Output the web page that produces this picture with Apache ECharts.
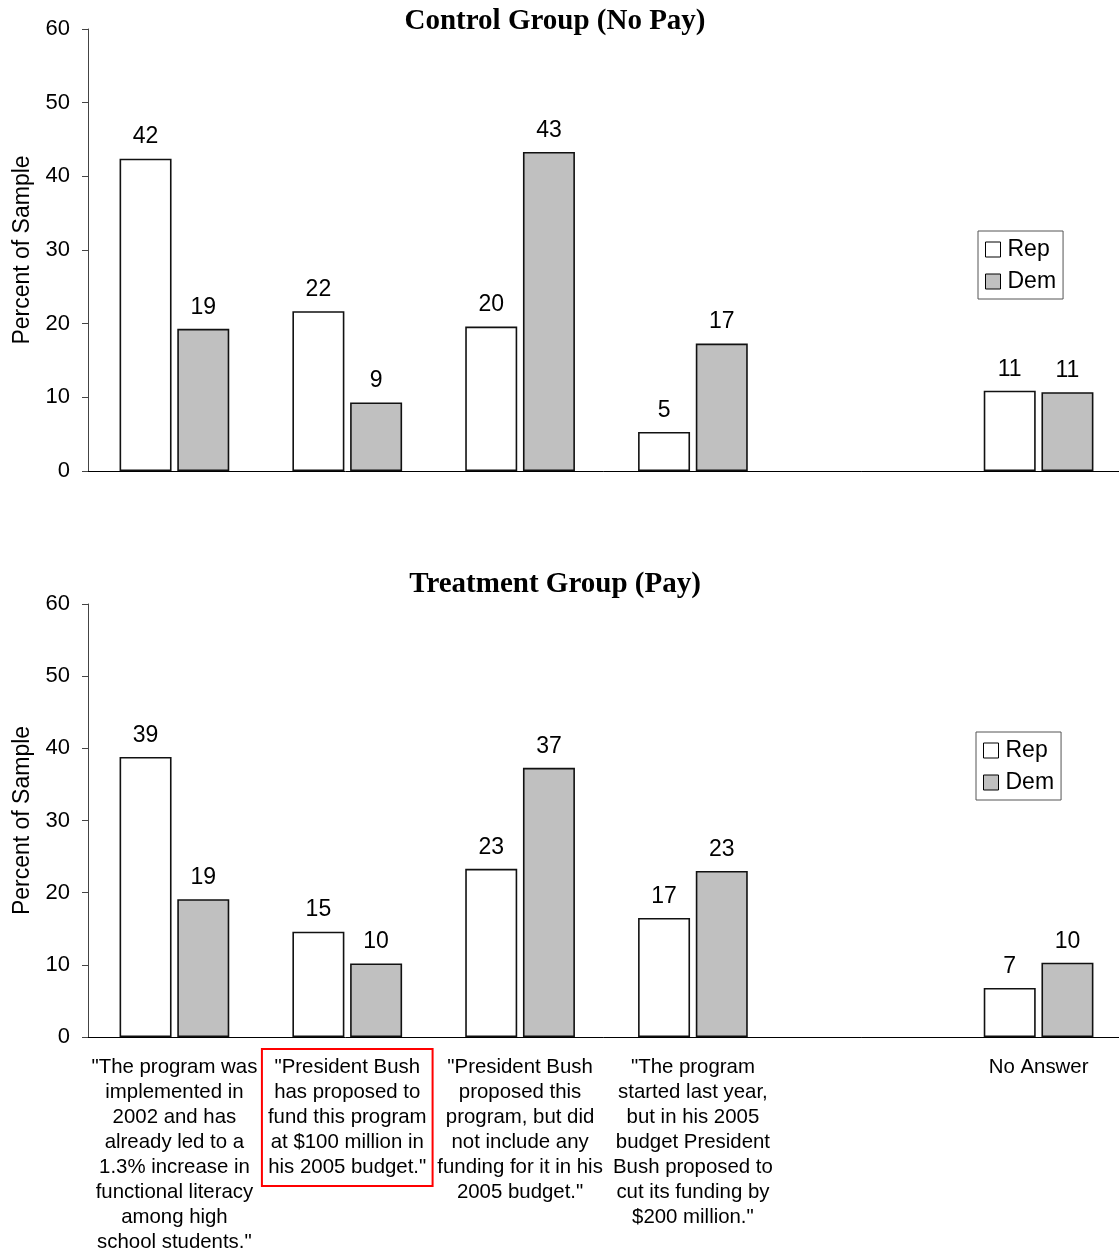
<!DOCTYPE html>
<html><head><meta charset="utf-8">
<script src="https://cdn.jsdelivr.net/npm/echarts@6/dist/echarts.min.js"></script>
<style>html,body{margin:0;padding:0;background:#fff}#c{width:1119px;height:1249px}</style>
</head><body><div id="c"></div>
<script>
const categories = [
  '"The program was\nimplemented in\n2002 and has\nalready led to a\n1.3% increase in\nfunctional literacy\namong high\nschool students."',
  '"President Bush\nhas proposed to\nfund this program\nat $100 million in\nhis 2005 budget."',
  '"President Bush\nproposed this\nprogram, but did\nnot include any\nfunding for it in his\n2005 budget."',
  '"The program\nstarted last year,\nbut in his 2005\nbudget President\nBush proposed to\ncut its funding by\n$200 million."',
  '',
  'No Answer'
];
const titles = ['Control Group (No Pay)', 'Treatment Group (Pay)'];
const controlRep = [42.4, 21.7, 19.6, 5.3, null, 10.9];
const controlDem = [19.3, 9.3, 43.3, 17.3, null, 10.7];
const treatRep = [38.8, 14.6, 23.3, 16.5, null, 6.8];
const treatDem = [19.1, 10.2, 37.3, 23.0, null, 10.3];
const yTicks = { min: 0, max: 60, interval: 10 };
const highlightIndex = 1;

const font = 'Liberation Sans, Arial, sans-serif';
const chart = echarts.init(document.getElementById('c'));

const xData = categories.map((c, i) => i === highlightIndex
  ? { value: c, textStyle: { borderColor: '#ff0000', borderWidth: 2, padding: [6, 6, 6, 6] } }
  : { value: c });

function yAxis(gi) {
  return {
    gridIndex: gi, type: 'value', min: yTicks.min, max: yTicks.max, interval: yTicks.interval,
    name: 'Percent of Sample', nameLocation: 'middle', nameGap: 54,
    nameTextStyle: { fontFamily: font, fontSize: 23, color: '#000' },
    axisLine: { show: true, lineStyle: { color: '#444', width: 1 } },
    axisTick: { show: true, length: 6, lineStyle: { color: '#444' } },
    axisLabel: { fontFamily: font, fontSize: 22, color: '#000', margin: 18 },
    splitLine: { show: false }
  };
}
function xAxis(gi, showLabels) {
  return {
    gridIndex: gi, type: 'category', data: xData,
    axisLine: { lineStyle: { color: '#000', width: 1 } },
    axisTick: { show: false },
    axisLabel: {
      show: showLabels, interval: 0, fontFamily: font, fontSize: 20.4, lineHeight: 25,
      color: '#000', margin: 12, padding: [6, 6, 6, 6]
    }
  };
}
function barSeries(name, data, gi, color) {
  return {
    name, type: 'bar', xAxisIndex: gi, yAxisIndex: gi, data,
    barWidth: 52, barGap: '11%',
    itemStyle: { color, borderColor: '#111', borderWidth: 1.6 },
    label: { show: true, position: 'top', distance: 10, fontFamily: font, fontSize: 23, color: '#000',
      formatter: p => Math.round(p.value) },
    emphasis: { disabled: true }
  };
}
const legendBase = {
  orient: 'vertical', icon: 'rect', itemWidth: 15, itemHeight: 15, itemGap: 9,
  borderColor: '#555', borderWidth: 1, padding: [7, 7, 6, 7],
  textStyle: { fontFamily: font, fontSize: 23, color: '#000', padding: [0, 0, 0, 2] },
  data: [
    { name: 'Rep', itemStyle: { color: '#fff', borderColor: '#000', borderWidth: 1 } },
    { name: 'Dem', itemStyle: { color: '#c0c0c0', borderColor: '#000', borderWidth: 1 } }
  ]
};

chart.setOption({
  animation: false,
  backgroundColor: '#fff',
  title: titles.map((t, i) => ({
    text: t, left: 550, textAlign: 'center', top: i === 0 ? 2 : 565,
    textStyle: { fontFamily: 'Liberation Serif, Times New Roman, serif', fontWeight: 'bold', fontSize: 29, color: '#000' }
  })),
  legend: [
    Object.assign({}, legendBase, { left: 978, top: 231 }),
    Object.assign({}, legendBase, { left: 976, top: 732 })
  ],
  grid: [
    { left: 88, width: 1037, top: 29, height: 442, outerBoundsMode: 'none' },
    { left: 88, width: 1037, top: 604, height: 433, outerBoundsMode: 'none' }
  ],
  xAxis: [xAxis(0, false), xAxis(1, true)],
  yAxis: [yAxis(0), yAxis(1)],
  series: [
    barSeries('Rep', controlRep, 0, '#fff'),
    barSeries('Dem', controlDem, 0, '#c0c0c0'),
    barSeries('Rep', treatRep, 1, '#fff'),
    barSeries('Dem', treatDem, 1, '#c0c0c0')
  ]
});
</script></body></html>
